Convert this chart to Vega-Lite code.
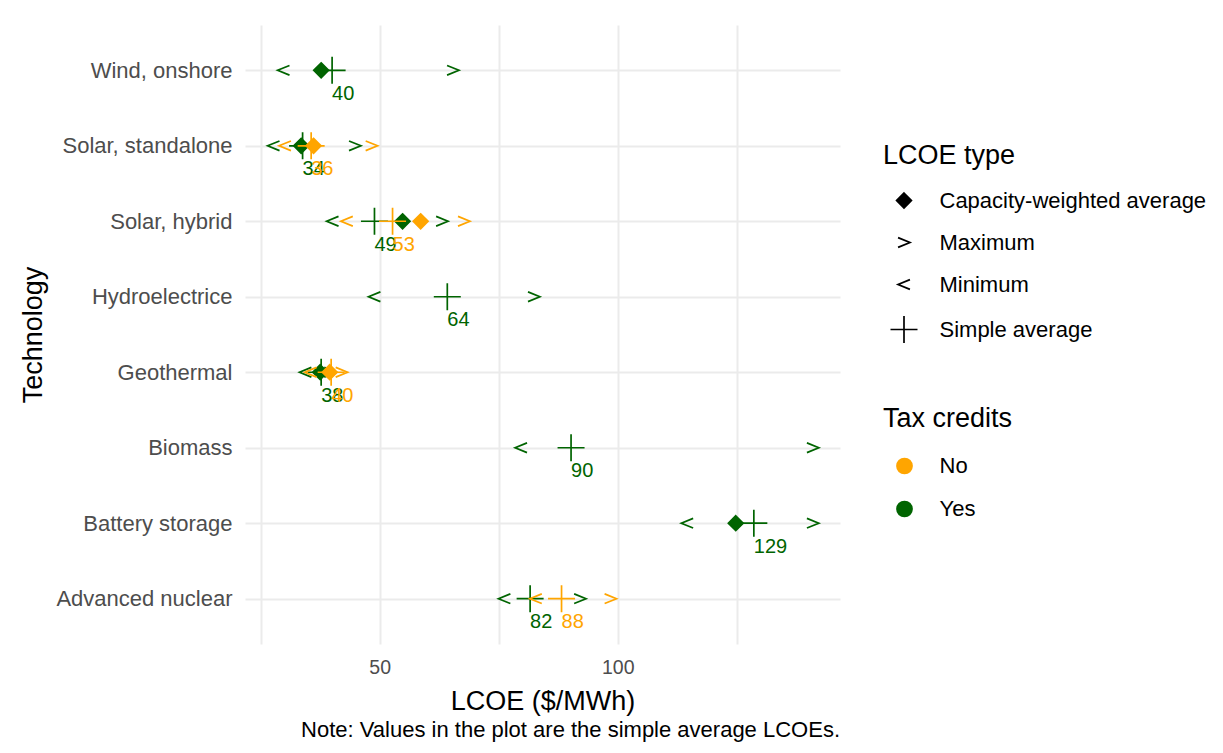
{
  "$schema": "https://vega.github.io/schema/vega-lite/v6.json",
  "width": 595,
  "height": 619,
  "autosize": {"type": "none"},
  "padding": {"left": 245, "top": 25, "right": 383, "bottom": 109},
  "background": "white",
  "config": {"font": "Liberation Sans", "view": {"stroke": null}},
  "title": {
    "text": "Note: Values in the plot are the simple average LCOEs.",
    "orient": "bottom",
    "anchor": "end",
    "frame": "group",
    "fontSize": 22,
    "fontWeight": "normal",
    "color": "black",
    "offset": 6
  },
  "data": {
    "values": [
      {"tech": "Wind, onshore", "tax": "Yes", "type": "Minimum", "value": 29.8},
      {"tech": "Wind, onshore", "tax": "Yes", "type": "Maximum", "value": 65.4},
      {"tech": "Wind, onshore", "tax": "Yes", "type": "Capacity-weighted average", "value": 37.7},
      {"tech": "Wind, onshore", "tax": "Yes", "type": "Simple average", "value": 40.0},
      {"tech": "Solar, standalone", "tax": "Yes", "type": "Minimum", "value": 27.7},
      {"tech": "Solar, standalone", "tax": "Yes", "type": "Maximum", "value": 44.8},
      {"tech": "Solar, standalone", "tax": "Yes", "type": "Capacity-weighted average", "value": 33.5},
      {"tech": "Solar, standalone", "tax": "Yes", "type": "Simple average", "value": 33.8},
      {"tech": "Solar, hybrid", "tax": "Yes", "type": "Minimum", "value": 40.1},
      {"tech": "Solar, hybrid", "tax": "Yes", "type": "Maximum", "value": 63.1},
      {"tech": "Solar, hybrid", "tax": "Yes", "type": "Capacity-weighted average", "value": 54.8},
      {"tech": "Solar, hybrid", "tax": "Yes", "type": "Simple average", "value": 48.9},
      {"tech": "Hydroelectrice", "tax": "Yes", "type": "Minimum", "value": 48.9},
      {"tech": "Hydroelectrice", "tax": "Yes", "type": "Maximum", "value": 82.4},
      {"tech": "Hydroelectrice", "tax": "Yes", "type": "Simple average", "value": 64.2},
      {"tech": "Geothermal", "tax": "Yes", "type": "Minimum", "value": 34.4},
      {"tech": "Geothermal", "tax": "Yes", "type": "Maximum", "value": 39.6},
      {"tech": "Geothermal", "tax": "Yes", "type": "Capacity-weighted average", "value": 37.5},
      {"tech": "Geothermal", "tax": "Yes", "type": "Simple average", "value": 37.7},
      {"tech": "Biomass", "tax": "Yes", "type": "Minimum", "value": 79.7},
      {"tech": "Biomass", "tax": "Yes", "type": "Maximum", "value": 141.0},
      {"tech": "Biomass", "tax": "Yes", "type": "Simple average", "value": 90.2},
      {"tech": "Battery storage", "tax": "Yes", "type": "Minimum", "value": 114.6},
      {"tech": "Battery storage", "tax": "Yes", "type": "Maximum", "value": 141.0},
      {"tech": "Battery storage", "tax": "Yes", "type": "Capacity-weighted average", "value": 124.8},
      {"tech": "Battery storage", "tax": "Yes", "type": "Simple average", "value": 128.6},
      {"tech": "Advanced nuclear", "tax": "Yes", "type": "Minimum", "value": 76.2},
      {"tech": "Advanced nuclear", "tax": "Yes", "type": "Maximum", "value": 92.1},
      {"tech": "Advanced nuclear", "tax": "Yes", "type": "Simple average", "value": 81.6},
      {"tech": "Solar, standalone", "tax": "No", "type": "Minimum", "value": 30.1},
      {"tech": "Solar, standalone", "tax": "No", "type": "Maximum", "value": 48.3},
      {"tech": "Solar, standalone", "tax": "No", "type": "Capacity-weighted average", "value": 36.1},
      {"tech": "Solar, standalone", "tax": "No", "type": "Simple average", "value": 35.6},
      {"tech": "Solar, hybrid", "tax": "No", "type": "Minimum", "value": 43.1},
      {"tech": "Solar, hybrid", "tax": "No", "type": "Maximum", "value": 67.7},
      {"tech": "Solar, hybrid", "tax": "No", "type": "Capacity-weighted average", "value": 58.6},
      {"tech": "Solar, hybrid", "tax": "No", "type": "Simple average", "value": 52.7},
      {"tech": "Geothermal", "tax": "No", "type": "Minimum", "value": 35.5},
      {"tech": "Geothermal", "tax": "No", "type": "Maximum", "value": 42.0},
      {"tech": "Geothermal", "tax": "No", "type": "Capacity-weighted average", "value": 39.5},
      {"tech": "Geothermal", "tax": "No", "type": "Simple average", "value": 39.8},
      {"tech": "Advanced nuclear", "tax": "No", "type": "Minimum", "value": 82.8},
      {"tech": "Advanced nuclear", "tax": "No", "type": "Maximum", "value": 98.5},
      {"tech": "Advanced nuclear", "tax": "No", "type": "Simple average", "value": 88.2}
    ]
  },
  "encoding": {
    "x": {
      "field": "value",
      "type": "quantitative",
      "scale": {"domain": [21.7, 146.7], "nice": false, "zero": false},
      "axis": {
        "title": "LCOE ($/MWh)",
        "values": [25, 50, 75, 100, 125],
        "labelExpr": "datum.value == 50 || datum.value == 100 ? datum.label : ''",
        "labelOverlap": false,
        "labelFlush": false,
        "grid": true,
        "gridColor": "#EBEBEB",
        "gridWidth": 2,
        "domain": false,
        "ticks": false,
        "tickSize": 0,
        "labelFontSize": 19.5,
        "labelColor": "#4D4D4D",
        "labelPadding": 14,
        "titleFontSize": 27,
        "titleFontWeight": "normal",
        "titleColor": "black",
        "titleY": 65,
        "titleBaseline": "alphabetic"
      }
    },
    "y": {
      "field": "tech",
      "type": "nominal",
      "scale": {
        "type": "point",
        "padding": 0.6,
        "domain": ["Wind, onshore", "Solar, standalone", "Solar, hybrid", "Hydroelectrice", "Geothermal", "Biomass", "Battery storage", "Advanced nuclear"]
      },
      "axis": {
        "title": "Technology",
        "grid": true,
        "gridColor": "#EBEBEB",
        "gridWidth": 2,
        "domain": false,
        "ticks": false,
        "tickSize": 0,
        "labelFontSize": 22,
        "labelColor": "#4D4D4D",
        "labelPadding": 13,
        "labelLimit": 400,
        "titleFontSize": 27,
        "titleFontWeight": "normal",
        "titleColor": "black",
        "titleX": -212,
        "titleY": 309.5,
        "titleAngle": 270,
        "titleBaseline": "middle",
        "titleAlign": "center"
      }
    },
    "color": {
      "field": "tax",
      "type": "nominal",
      "scale": {"domain": ["No", "Yes"], "range": ["#FFA500", "#006400"]},
      "legend": {
        "title": "Tax credits",
        "orient": "none",
        "legendX": 638,
        "legendY": 381,
        "padding": 0,
        "titleFontSize": 27,
        "titleFontWeight": "normal",
        "titleColor": "black",
        "titlePadding": 22,
        "labelFontSize": 22,
        "labelColor": "black",
        "labelLimit": 400,
        "symbolType": "circle",
        "symbolSize": 280,
        "symbolOffset": 10.5,
        "symbolOpacity": 1,
        "symbolStrokeWidth": 0,
        "labelOffset": 24,
        "rowPadding": 21
      }
    }
  },
  "layer": [
    {
      "mark": {"type": "point", "filled": true, "strokeWidth": 1.7, "size": 729, "opacity": 1},
      "encoding": {
        "shape": {
          "field": "type",
          "type": "nominal",
          "scale": {
            "domain": ["Capacity-weighted average", "Maximum", "Minimum", "Simple average"],
            "range": [
              "M0,-0.55L0.55,0L0,0.55L-0.55,0Z",
              "M-0.44,-0.36L0.44,0L-0.44,0.36L0.44,0Z",
              "M0.44,-0.36L-0.44,0L0.44,0.36L-0.44,0Z",
              "M-1,0L1,0L-1,0ZM0,-1L0,1L0,-1Z"
            ]
          },
          "legend": {
            "title": "LCOE type",
            "orient": "none",
            "legendX": 638,
            "legendY": 118,
            "padding": 0,
            "titleFontSize": 27,
            "titleFontWeight": "normal",
            "titleColor": "black",
            "titlePadding": 16,
            "labelFontSize": 22,
            "labelColor": "black",
            "labelLimit": 400,
            "symbolSize": 729,
            "symbolOffset": 6.5,
            "symbolFillColor": "black",
            "symbolStrokeColor": "black",
            "symbolStrokeWidth": 1.7,
            "symbolOpacity": 1,
            "labelOffset": 21,
            "rowPadding": 16
          }
        },
        "stroke": {
          "field": "tax",
          "type": "nominal",
          "scale": {"domain": ["No", "Yes"], "range": ["#FFA500", "#006400"]},
          "legend": null
        }
      }
    },
    {
      "transform": [{"filter": "datum.type === 'Simple average'"}],
      "mark": {"type": "text", "align": "left", "baseline": "middle", "dy": 23.5, "fontSize": 20},
      "encoding": {
        "text": {"field": "value", "type": "quantitative", "format": ".0f"}
      }
    }
  ]
}
